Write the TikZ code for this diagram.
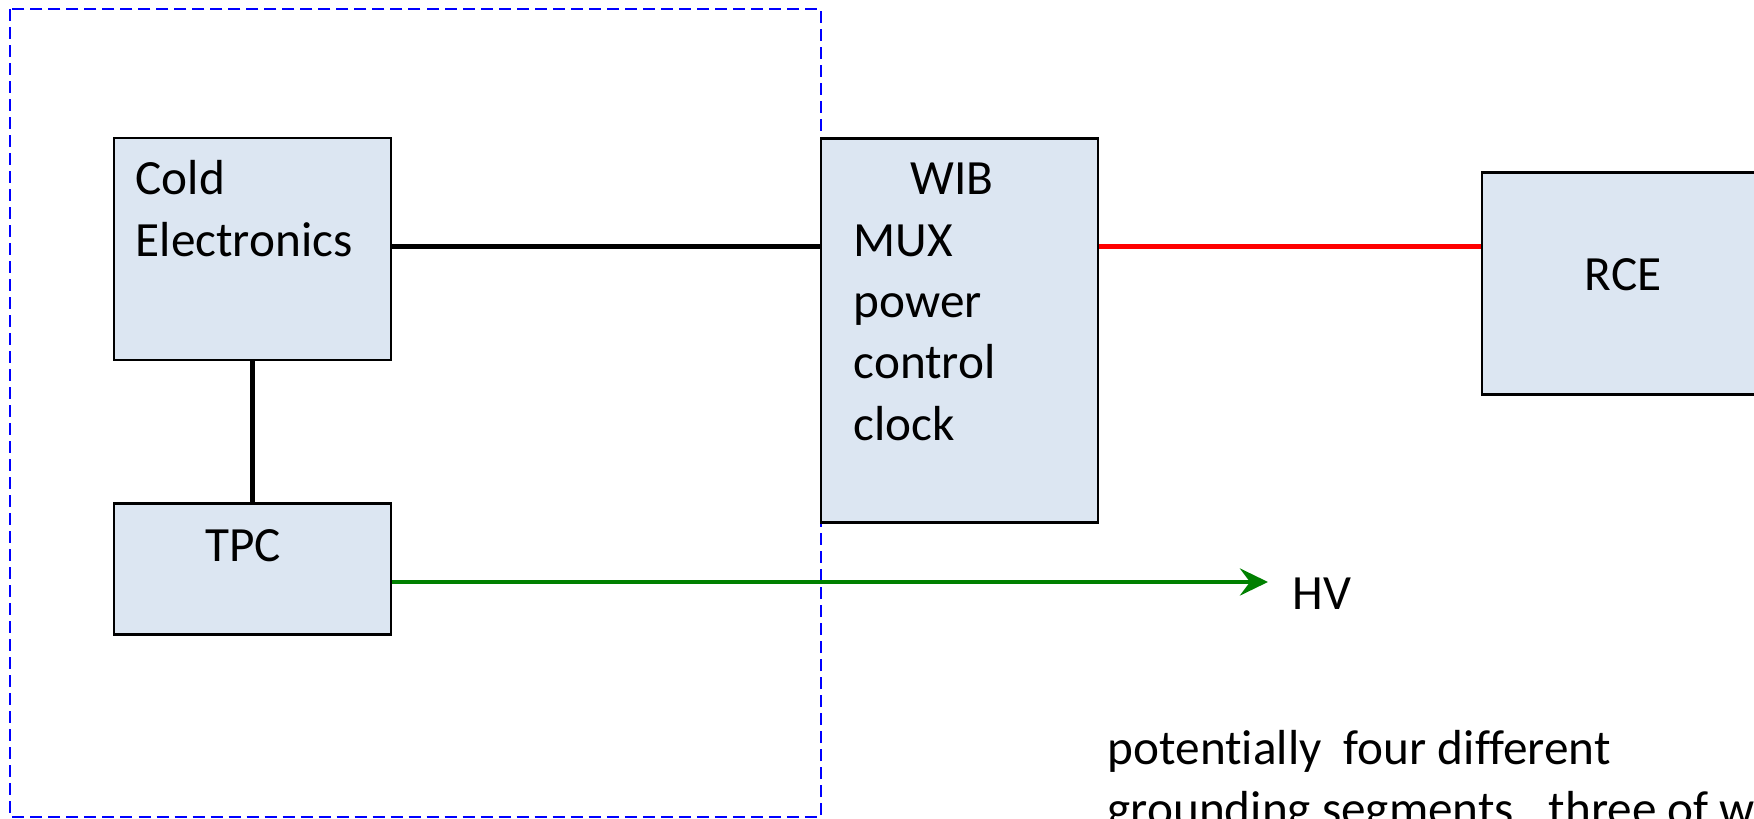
\documentclass[tikz,border=0pt]{standalone}
\usepackage{fontspec}
\setmainfont[Ligatures=NoCommon]{Carlito}
\usetikzlibrary{arrows.meta}
\definecolor{boxfill}{HTML}{DCE6F2}
\definecolor{hvgreen}{HTML}{008000}

\begin{document}
\begin{tikzpicture}[x=0.01cm, y=-0.01cm,
        block/.style={draw, fill=boxfill, line width=0.7pt, minimum width=2.77cm, inner sep=0pt},
        lbl/.style={inner sep=0pt, font=\fontsize{14pt}{17pt}\selectfont},
        wire/.style={line width=1.25pt}]
    \path[use as bounding box, clip] (0,0) rectangle (1754,819);

    \draw[blue, line width=0.6pt, dash pattern=on 0.12cm off 0.06cm] (10,9) rectangle (821,817);

    \node[
        block,
        minimum height=2.22cm,
        name=ce
    ] at (252.5,249) {};
    \node[
        block,
        minimum height=1.31cm,
        name=tpc
    ] at (252.5,569) {};
    \node[
        block,
        minimum height=3.84cm,
        name=wib
    ] at (959.5,330.5) {};
    \node[
        block,
        minimum height=2.22cm,
        name=rce
    ] at (1620.5,283.5) {};

    \node[lbl, anchor=base west, name=cold] at (135,195) {Cold};
    \node[lbl, anchor=base west, name=elec] at (135,257) {Electronics};
    \node[lbl, anchor=base, name=tpcl] at (243,562) {TPC};
    \node[lbl, anchor=base, name=wibl] at (952,195) {WIB};
    \foreach \txt [count=\i] in {MUX,power,control,clock}
        \node[lbl, anchor=base west, name=wib\i] at (853,{195+61.3*\i}) {\txt};
    \node[lbl, anchor=base, name=rcel] at (1623,291) {RCE};
    \node[lbl, anchor=base west, name=hv] at (1292,610) {HV};
    \node[lbl, anchor=base west, name=note1] at (1107,765) {potentially\ \ four different};
    \node[lbl, anchor=base west, name=note2] at (1107,826) {grounding segments,\ \ three of w};

    \coordinate (link) at (0,246.5);
    \draw[wire] (ce.east |- link) -- (wib.west |- link);
    \draw[wire] (ce) -- (tpc);
    \draw[wire, red] (wib.east |- link) -- (rce.west |- link);

    \coordinate (hvtip) at (1268,582);
    \draw[wire, hvgreen, -{Stealth[length=2.8mm, width=2.7mm, inset=1mm]}] (tpc.east |- hvtip) -- (hvtip);
\end{tikzpicture}
\end{document}
